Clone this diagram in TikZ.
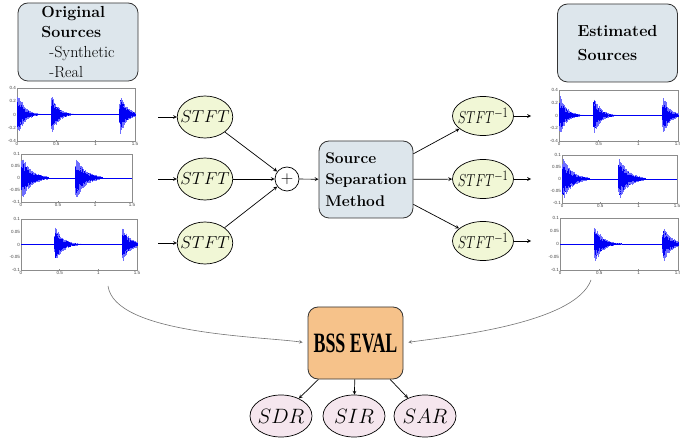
\documentclass[tikz,border=0pt]{standalone}
\usepackage{fontspec}
\usetikzlibrary{shapes.geometric}
\newfontfamily\plotfont{Liberation Sans}
\newfontfamily\evalfont{Liberation Serif}
\definecolor{boxblue}{RGB}{221,230,236}
\definecolor{stftgreen}{RGB}{241,247,214}
\definecolor{evalorange}{RGB}{246,194,138}
\definecolor{metricpink}{RGB}{245,230,238}
\tikzset{
  source box/.style={
    draw=black!80,
    line width=0.8pt,
    rounded corners=10pt,
    fill=boxblue,
    minimum width=120pt,
    minimum height=78pt,
    align=left,
  },
  method box/.style={
    source box,
    minimum width=94pt,
    minimum height=77pt,
    font=\bfseries\fontsize{15.5}{21.5}\selectfont,
  },
  eval box/.style={
    source box,
    fill=evalorange,
    minimum width=95pt,
    minimum height=72pt,
    font=\evalfont\bfseries\fontsize{28}{30}\selectfont,
  },
  transform/.style={
    ellipse,
    draw,
    line width=0.7pt,
    fill=stftgreen,
    inner xsep=-5pt,
    inner ysep=0pt,
    minimum width=53pt,
    minimum height=42pt,
    font=\fontsize{19}{22}\selectfont,
  },
  inverse/.style={
    transform,
    inner xsep=-8pt,
    minimum width=61pt,
    minimum height=39pt,
  },
  metric/.style={
    transform,
    fill=metricpink,
    inner xsep=-4pt,
    minimum width=62pt,
    minimum height=42pt,
    font=\fontsize{21}{24}\selectfont,
  },
  adder/.style={
    circle,
    draw,
    line width=0.7pt,
    inner sep=0pt,
    minimum size=24pt,
    font=\fontsize{18}{18}\selectfont,
  },
  link/.style={-stealth, line width=0.7pt},
  feedback/.style={-stealth, draw=black!55, line width=0.6pt, shorten >=5pt},
  plot frame/.style={draw=black!45, line width=0.4pt},
  tick label/.style={font=\plotfont\fontsize{4.5}{5}\selectfont, text=black!75, inner sep=1pt},
  wave/.style={draw={rgb,255:red,0;green,0;blue,245}, line width=0.45pt},
  wave light/.style={draw={rgb,255:red,110;green,110;blue,255}, line width=0.45pt},
}
% #1,#2 top left corner, #3 width, #4 height, #5/#6 y ticks, #7 bursts (time/amplitude/decay)
\newcommand{\waveplot}[7]{%
  \begin{scope}[shift={(#1,#2)}]
    \draw[plot frame] (0,0) rectangle (#3,-#4);
    \foreach \v/\lab in {0/#5,0.25/#6,0.5/0,0.75/-#6,1/-#5}{
      \node[tick label, anchor=east] at (0,{-\v*#4}) {\lab};
      \draw[plot frame] (0,{-\v*#4}) -- ++(1.2,0);
    }
    \foreach \u/\lab in {0/0,1/0.5,2/1,3/1.5}{
      \node[tick label, anchor=north] at ({\u*#3/3},-#4) {\lab};
      \draw[plot frame] ({\u*#3/3},-#4) -- ++(0,1.2);
    }
    \draw[wave] (0,-#4/2) -- (#3,-#4/2);
    \foreach \bt/\ba/\bd in {#7}{
      \pgfmathsetmacro\xs{\bt/1.5*#3}
      \foreach \k in {0,...,90}{
        \pgfmathsetmacro\xx{\xs+0.3*\k}
        \ifdim\xx pt<#3pt
          \pgfmathsetmacro\envl{\ba*#4/2*(1-exp(-\k/1.2))*exp(-\k/\bd)}
          \draw[wave light] (\xx,{-#4/2+\envl*(0.6+0.4*rnd)}) -- (\xx,{-#4/2-\envl*(0.6+0.4*rnd)});
          \draw[wave] (\xx,{-#4/2+0.8*\envl*(0.5+0.5*rnd)}) -- (\xx,{-#4/2-0.8*\envl*(0.5+0.5*rnd)});
        \fi
      }
    }
  \end{scope}}

\begin{document}
\begin{tikzpicture}[x=1pt, y=1pt]
  \useasboundingbox (0,0) rectangle (680,-438);
  \pgfmathsetseed{11}

  % original and estimated signals
  \waveplot{17}{-88}{118}{53}{0.4}{0.2}{0/0.95/22,0.43/0.9/22,1.3/0.9/22}
  \waveplot{21}{-154}{111}{48}{0.1}{0.05}{0/1/32,0.73/1/32}
  \waveplot{21}{-219}{116}{51}{0.1}{0.05}{0.43/0.8/26,1.3/0.8/26}
  \waveplot{559}{-90}{119}{51}{0.4}{0.2}{0/0.95/22,0.43/0.9/22,1.3/0.9/22}
  \waveplot{562}{-155}{115}{48}{0.1}{0.05}{0/1/32,0.73/1/32}
  \waveplot{560}{-218}{118}{52}{0.1}{0.05}{0.43/0.8/26,1.3/0.8/26}

  \node [source box, font=\fontsize{16}{20}\selectfont] (orig) at (78,-42)
    {\textbf{Original}\\\textbf{Sources}\\\hspace{8pt}-Synthetic\\\hspace{8pt}-Real};
  \node [source box, font=\bfseries\fontsize{16}{24}\selectfont] (est) at (617.5,-43)
    {Estimated\\Sources};

  \node [transform] (stft1) at (205,-117) {$STFT$};
  \node [transform] (stft2) at (205,-179) {$STFT$};
  \node [transform] (stft3) at (205,-243) {$STFT$};
  \node [adder] (sum) at (287,-179) {$+$};
  \node [method box] (ssm) at (366,-179.5) {Source\\Separation\\Method};
  \node [inverse] (istft1) at (483,-116) {\scalebox{0.74}[1]{$STFT^{-1}$}};
  \node [inverse] (istft2) at (483,-179) {\scalebox{0.74}[1]{$STFT^{-1}$}};
  \node [inverse] (istft3) at (483,-241) {\scalebox{0.74}[1]{$STFT^{-1}$}};

  \node [eval box] (bss) at (355.5,-343) {\scalebox{0.64}[1]{BSS EVAL}};
  \node [metric] (sdr) at (281,-416) {$SDR$};
  \node [metric] (sir) at (354,-416) {$SIR$};
  \node [metric] (sar) at (425,-416) {$SAR$};

  \coordinate (in1) at (158,-117);
  \coordinate (in2) at (158,-179);
  \coordinate (in3) at (158,-243);
  \coordinate (out1) at (531,-116);
  \coordinate (out2) at (531,-179);
  \coordinate (out3) at (531,-241);
  \coordinate (refs) at (108,-286);
  \coordinate (ests) at (591,-280);

  \foreach \i in {1,2,3}{
    \draw [link] (in\i) -- (stft\i);
    \draw [link] (stft\i) -- (sum);
    \draw [link] (ssm) -- (istft\i);
    \draw [link] (istft\i) -- (out\i);
  }
  \draw [link] (sum) -- (ssm);
  \draw [link] (bss) -- (sdr);
  \draw [link] (bss) -- (sir);
  \draw [link] (bss) -- (sar);

  \draw [feedback] (refs) to[out=-82, in=172, looseness=0.6] (bss.west);
  \draw [feedback] (ests) to[out=-110, in=8, looseness=0.6] (bss.east);
\end{tikzpicture}
\end{document}
